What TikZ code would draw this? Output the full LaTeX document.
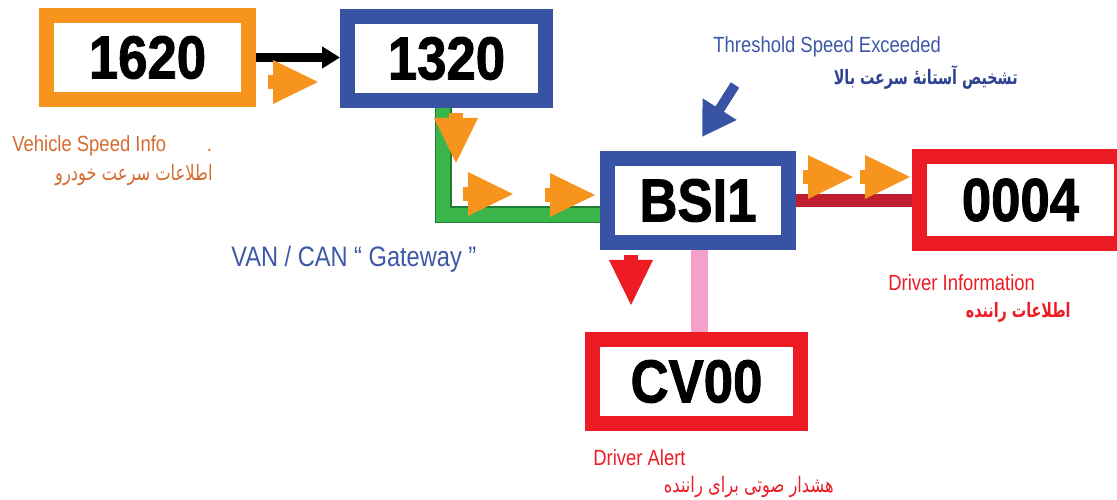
\documentclass[tikz,border=0pt]{standalone}
\usepackage{fontspec}
\setmainfont{Liberation Sans}
\newfontfamily\tagfont{Liberation Sans Bold}[FakeBold=1.6]
\newfontfamily\lblfont{Liberation Sans}[FakeStretch=0.84]
\newfontfamily\farsi{DejaVu Sans}[Script=Arabic, FakeStretch=0.76]
\newfontfamily\farsibold{DejaVu Sans Bold}[Script=Arabic, FakeStretch=0.72]
\TeXXeTstate=1
\usetikzlibrary{arrows.meta}

\definecolor{ecuorange}{RGB}{247,148,29}
\definecolor{ecublue}{RGB}{57,83,164}
\definecolor{ecured}{RGB}{237,28,36}
\definecolor{busgreen}{RGB}{57,181,74}
\definecolor{busgreendark}{RGB}{30,125,50}
\definecolor{busred}{RGB}{190,30,45}
\definecolor{buspink}{RGB}{244,160,200}
\definecolor{txtorange}{RGB}{212,108,48}
\definecolor{txtblue}{RGB}{62,88,168}
\definecolor{txtnavy}{RGB}{45,65,145}

\newcommand{\tagtext}[1]{\scalebox{1}[1.15]{#1}}

\begin{document}
\begin{tikzpicture}[
        x=0.02cm, y=-0.02cm,
        ecubox/.style={draw, line width=0.3cm, fill=white, inner sep=0, outer sep=0.15cm, minimum height=1.68cm, font=\tagfont\fontsize{30}{31}\selectfont},
        lbl/.style={inner sep=0, font=\lblfont\fontsize{12.5}{15}\selectfont},
        falbl/.style={inner sep=0, font=\farsi\fontsize{12.2}{15}\selectfont},
        fabold/.style={inner sep=0, font=\farsibold\fontsize{11.3}{15}\selectfont},
        flowmark/.pic={
            \fill (0,0) -- (-45,-22) -- (-45,22) -- cycle;
            \fill (-44,-7) rectangle (-50,7);
        }
    ]
        \path[use as bounding box, clip] (0,0) rectangle (1117,500);

        \node[ecubox, draw=ecuorange, minimum width=4.04cm] (n1620) at (147.5,57.5) {\tagtext{1620}};
        \node[ecubox, draw=ecublue, minimum width=3.96cm] (n1320) at (446.5,58.5) {\tagtext{1320}};
        \node[ecubox, draw=ecublue, minimum width=3.62cm] (bsi) at (698,200.5) {\tagtext{BSI1}};
        \node[ecubox, draw=ecured, minimum width=4.04cm, minimum height=1.74cm] (n0004) at (1020.5,200) {\tagtext{0004}};
        \node[ecubox, draw=ecured, minimum width=4.16cm] (cv) at (696.5,381.5) {\tagtext{CV00}};

        \draw[line width=0.18cm, -{Triangle[length=0.36cm, width=0.42cm]}] (n1620.east) -- (n1320.west |- n1620.east);
        \draw[line width=0.03cm, draw=busgreendark, double=busgreen, double distance=0.28cm] ([xshift=-0.07cm]n1320.south) |- ([yshift=-0.29cm]bsi.west);
        \draw[busred, line width=0.26cm] (bsi.east) -- (n0004.west |- bsi.east);
        \draw[buspink, line width=0.34cm] ([xshift=0.03cm]bsi.south) -- ([xshift=0.03cm]bsi.south |- cv.north);

        \coordinate (thrtail) at (735,85);
        \coordinate (thrtip) at (702,137);
        \draw[ecublue, line width=0.2cm, -{Triangle[length=0.66cm, width=0.76cm]}] (thrtail) -- (thrtip);

        \pic[fill=ecuorange] at (318,82) {flowmark};
        \pic[fill=ecuorange, rotate=-90] at (456,163) {flowmark};
        \pic[fill=ecuorange] at (513,194) {flowmark};
        \pic[fill=ecuorange] at (595,195) {flowmark};
        \pic[fill=ecuorange] at (853,177) {flowmark};
        \pic[fill=ecuorange] at (910,177) {flowmark};
        \pic[fill=ecured, rotate=-90] at (631,305) {flowmark};

        \node[lbl, anchor=west, text=txtorange] (spdinfo) at (12,146) {Vehicle Speed Info};
        \node[lbl, anchor=base west, text=txtorange] (spddot) at ([xshift=0.8cm]spdinfo.base east) {.};
        \node[falbl, anchor=east, text=txtorange] (spdinfofa) at (213,175) {\beginR اطلاعات سرعت خودرو\endR};
        \node[lbl, anchor=west, text=txtblue, font=\lblfont\fontsize{16}{18}\selectfont] (gateway) at (231,259) {VAN / CAN “ Gateway ”};
        \node[lbl, anchor=west, text=txtblue] (thr) at (713,47) {Threshold Speed Exceeded};
        \node[fabold, anchor=east, text=txtnavy] (thrfa) at (1018,77) {\beginR تشخیص آستانهٔ سرعت بالا\endR};
        \node[lbl, anchor=west, text=ecured] (drvinfo) at (888,283) {Driver Information};
        \node[fabold, anchor=east, text=ecured] (drvinfofa) at (1071,312) {\beginR اطلاعات راننده\endR};
        \node[lbl, anchor=west, text=ecured] (alert) at (593,458) {Driver Alert};
        \node[falbl, anchor=east, text=ecured] (alertfa) at (834,487) {\beginR هشدار صوتی برای راننده\endR};
    \end{tikzpicture}
\end{document}
